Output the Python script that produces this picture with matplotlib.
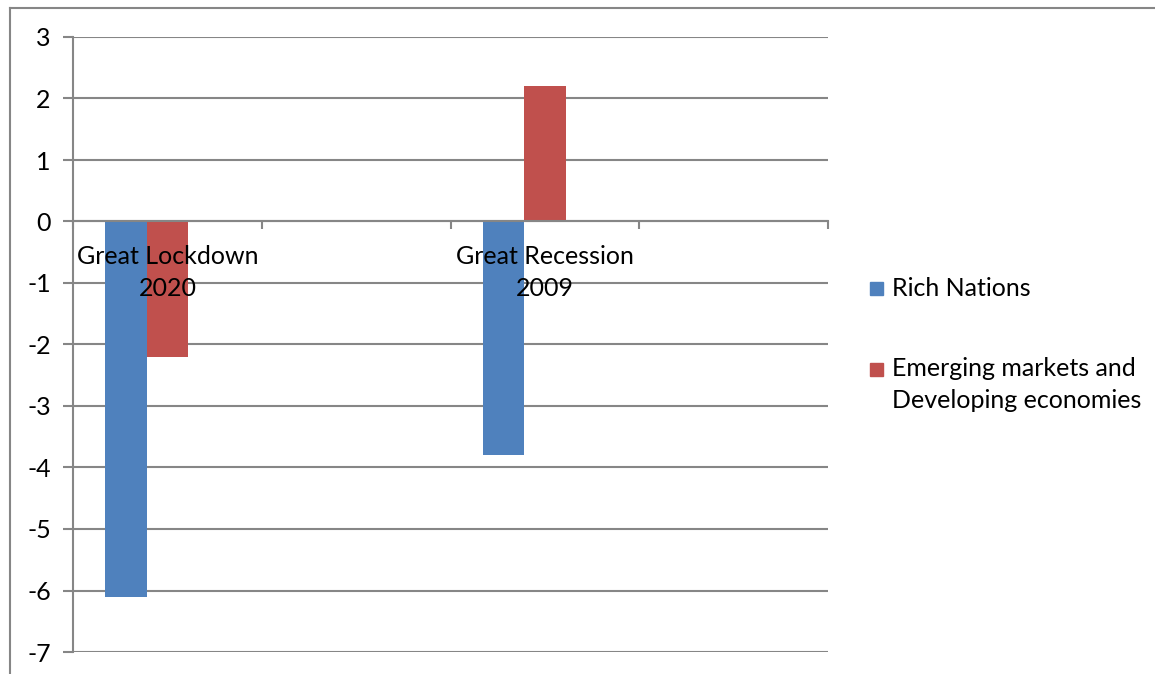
import matplotlib.pyplot as plt
from matplotlib.patches import Rectangle
from matplotlib.lines import Line2D
from matplotlib.ticker import FixedLocator
import numpy as np

categories = ["Great Lockdown\n2020", "", "Great Recession\n2009", ""]
rich = [-6.1, np.nan, -3.8, np.nan]
emerging = [-2.2, np.nan, 2.2, np.nan]
series_names = ["Rich Nations", "Emerging markets and\nDeveloping economies"]
colors = ["#4F81BD", "#C0504D"]

plt.rcParams['font.family'] = ['Lato', 'DejaVu Sans']
plt.rcParams['axes.unicode_minus'] = False
W, H = 1155, 674
fig = plt.figure(figsize=(W / 100, H / 100), dpi=100)
ax = fig.add_axes([73 / W, 22 / H, (828 - 73) / W, (652 - 37) / H])
ax.set_axisbelow(False)

grey = '#868686'
fs = 18
x = np.arange(len(categories))
w = 0.22
ax.bar(x - w, rich, w, color=colors[0], zorder=2)
ax.bar(x, emerging, w, color=colors[1], zorder=2)

ax.set_xlim(-0.5, len(categories) - 0.5)
ax.set_ylim(-7, 3)
ax.set_yticks(range(-7, 4))
for v in range(-7, 4):
    ax.axhline(v, color=grey, linewidth=1.5, zorder=1)
ax.tick_params(axis='y', length=7, width=1.5, color=grey, labelsize=fs, pad=9)

# category axis crosses at zero
ax.spines['bottom'].set_position(('data', 0))
for s in ['top', 'right']:
    ax.spines[s].set_visible(False)
for s in ['left', 'bottom']:
    ax.spines[s].set_color(grey)
    ax.spines[s].set_linewidth(1.5)

ax.xaxis.set_major_locator(FixedLocator(np.arange(len(categories) + 1) - 0.5))
ax.xaxis.set_minor_locator(FixedLocator(x))
ax.set_xticklabels([''] * (len(categories) + 1))
ax.set_xticklabels(categories, minor=True)
ax.tick_params(axis='x', which='major', length=6, width=1.5, color=grey)
ax.tick_params(axis='x', which='minor', length=0, labelsize=fs, pad=17)
for t in ax.get_xticklabels(minor=True):
    t.set_linespacing(1.45)

# legend
fig.add_artist(Rectangle((870 / W, 1 - 295 / H), 13 / W, 13 / H, color=colors[0]))
fig.text(892 / W, 1 - 288 / H, series_names[0], fontsize=fs, va='center')
fig.add_artist(Rectangle((870 / W, 1 - 376 / H), 13 / W, 13 / H, color=colors[1]))
fig.text(892 / W, 1 - 357 / H, series_names[1], fontsize=fs, va='top',
         linespacing=1.45)

# outer frame
fig.add_artist(Line2D([10 / W, 1], [1 - 8 / H, 1 - 8 / H], color=grey, linewidth=1.5))
fig.add_artist(Line2D([10 / W, 10 / W], [0, 1 - 8 / H], color=grey, linewidth=1.5))

fig.savefig("out.png", dpi=100)
